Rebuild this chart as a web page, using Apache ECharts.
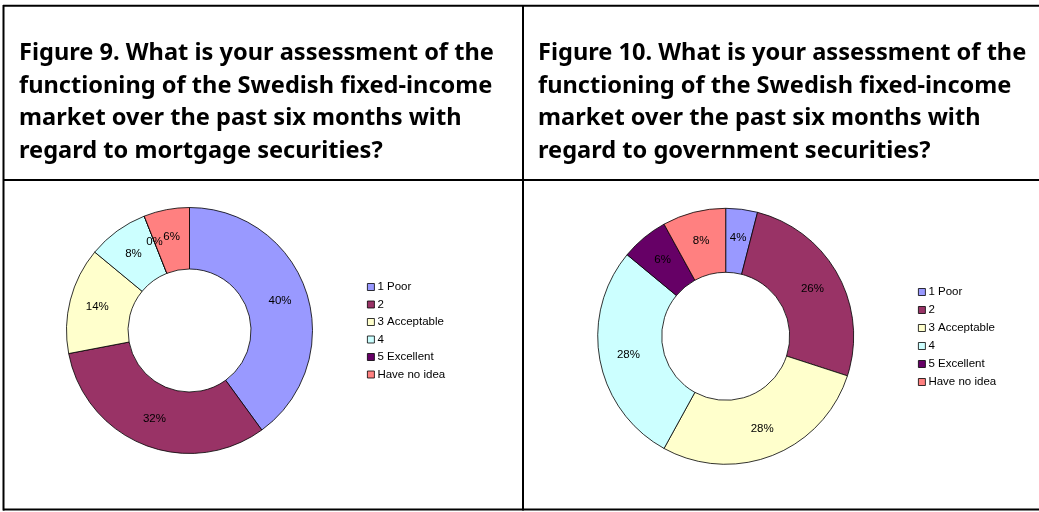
<!DOCTYPE html>
<html>
<head>
<meta charset="utf-8">
<script src="https://cdn.jsdelivr.net/npm/echarts@6/dist/echarts.min.js"></script>
<style>
html,body{margin:0;padding:0;background:#fff;}
#chart{width:1039px;height:512px;}
</style>
</head>
<body>
<div id="chart"></div>
<script>
const categories = ['1 Poor', '2', '3 Acceptable', '4', '5 Excellent', 'Have no idea'];
const mortgageValues = [40, 32, 14, 8, 0, 6];
const governmentValues = [4, 26, 28, 28, 6, 8];
const colors = ['#9999FF', '#993366', '#FFFFCC', '#CCFFFF', '#660066', '#FF8080'];
const title9 = 'Figure 9. What is your assessment of the\nfunctioning of the Swedish fixed-income\nmarket over the past six months with\nregard to mortgage securities?';
const title10 = 'Figure 10. What is your assessment of the\nfunctioning of the Swedish fixed-income\nmarket over the past six months with\nregard to government securities?';

const chart = echarts.init(document.getElementById('chart'));

function pieData(vals) {
  return categories.map((c, i) => ({ name: c, value: vals[i], itemStyle: { color: colors[i] } }));
}
const titleStyle = { fontFamily: 'Noto Sans', fontWeight: 'bold', fontSize: 23.6, lineHeight: 32.5, color: '#000' };
const labelStyle = {
  show: true, position: 'inside', formatter: p => p.value + '%',
  fontFamily: 'Liberation Sans, Arial', fontSize: 11.5, color: '#000'
};
const pieItem = { borderColor: '#000', borderWidth: 0.8 };
const legendBase = {
  orient: 'vertical', icon: 'rect', itemWidth: 7, itemHeight: 7, selectedMode: false, padding: 0,
  itemStyle: { borderColor: '#000', borderWidth: 0.8 },
  textStyle: { fontFamily: 'Liberation Sans, Arial', fontSize: 11.5, color: '#000', lineHeight: 12, padding: [0, 0, 0, -2] },
  data: categories
};
const line = (x1, y1, x2, y2) => ({ type: 'line', shape: { x1, y1, x2, y2 }, style: { stroke: '#000', lineWidth: 2 }, silent: true });

chart.setOption({
  animation: false,
  backgroundColor: '#fff',
  title: [
    { text: title9, left: 19, top: 37.5, padding: 0, textStyle: titleStyle },
    { text: title10, left: 538, top: 37.5, padding: 0, textStyle: titleStyle }
  ],
  legend: [
    Object.assign({}, legendBase, { left: 367, top: 281, itemGap: 5.5 }),
    Object.assign({}, legendBase, { left: 918, top: 286, itemGap: 6 })
  ],
  series: [
    {
      type: 'pie', center: [189.5, 330.5], radius: [61.5, 123], startAngle: 90, clockwise: true,
      avoidLabelOverlap: false, label: labelStyle, labelLine: { show: false },
      itemStyle: pieItem, emphasis: { disabled: true }, data: pieData(mortgageValues)
    },
    {
      type: 'pie', center: [725.7, 336.3], radius: [64, 128], startAngle: 90, clockwise: true,
      avoidLabelOverlap: false, label: labelStyle, labelLine: { show: false },
      itemStyle: pieItem, emphasis: { disabled: true }, data: pieData(governmentValues)
    }
  ],
  graphic: [
    line(3, 5.8, 1039, 5.8),
    line(3.5, 5, 3.5, 510.5),
    line(523, 5, 523, 510.5),
    line(3, 180, 1039, 180),
    line(3, 509.5, 1039, 509.5)
  ]
});
</script>
</body>
</html>
